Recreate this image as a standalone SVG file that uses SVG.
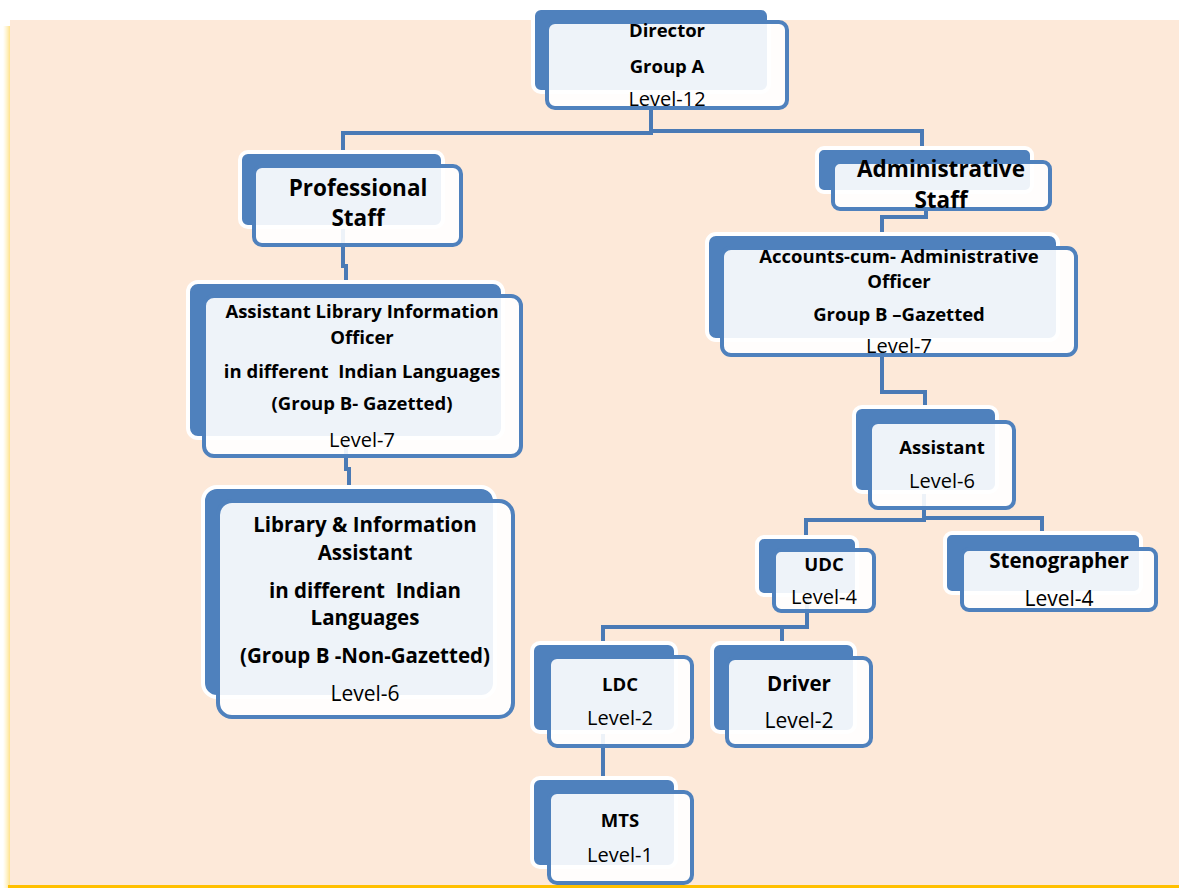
<svg xmlns="http://www.w3.org/2000/svg" width="1179" height="888" viewBox="0 0 1179 888">
  <defs>
    <linearGradient id="edgeGlow" x1="0" y1="0" x2="1" y2="0">
      <stop offset="0" stop-color="#FFE699" stop-opacity="0"/>
      <stop offset="1" stop-color="#FFD966" stop-opacity="0.9"/>
    </linearGradient>
  </defs>
  <style>
    .back { fill: #4F81BD; stroke: #FFFFFF; stroke-width: 4; }
    .front { fill: #FFFFFF; fill-opacity: 0.9; stroke: #4F81BD; stroke-width: 4; }
    .links path { fill: none; stroke: #4A7AB5; stroke-width: 4; }
    text { font-family: "Open Sans", "Liberation Sans", sans-serif; fill: #000000; text-anchor: middle; }
    .b { font-weight: bold; }
    .r { font-weight: normal; }
    .s18 { font-size: 18.5px; }
    .s19 { font-size: 20px; }
    .s20 { font-size: 20.5px; }
    .s21 { font-size: 21px; }
    .s22 { font-size: 22.5px; }
  </style>

  <!-- page background -->
  <rect x="0" y="0" width="1179" height="888" fill="#FFFFFF"/>
  <rect x="3" y="26" width="8" height="862" fill="url(#edgeGlow)"/>
  <rect x="10" y="20" width="1169" height="866" fill="#FDE9D9"/>
  <rect x="8" y="885" width="1171" height="3" fill="#FFC000"/>

  <!-- connectors -->
  <g class="links" id="connectors">
    <path d="M651 92 V133 H343 V152"/>
    <path d="M651 131 H922 V148"/>
    <path d="M343 227 V266 H346 V282"/>
    <path d="M346 438 V469 H349 V487"/>
    <path d="M926 192 V217 H882 V234"/>
    <path d="M882 340 V392 H925 V407"/>
    <path d="M924 492 V520 H806 V537"/>
    <path d="M924 518 H1042 V533"/>
    <path d="M807 595 V627 H603 V643"/>
    <path d="M807 627 H782 V643"/>
    <path d="M603 732 V778"/>
  </g>

  <g id="director">
    <rect class="back" x="533" y="8" width="236" height="84" rx="8"/>
    <rect class="front" x="547" y="22" width="240" height="86" rx="8"/>
    <text class="b s18" x="667" y="37">Director</text>
    <text class="b s18" x="667" y="73">Group A</text>
    <text class="r s19" x="667" y="106">Level-12</text>
  </g>

  <g id="professional-staff">
    <rect class="back" x="240" y="152" width="203" height="75" rx="8"/>
    <rect class="front" x="254" y="166" width="207" height="79" rx="8"/>
    <text class="b s22" x="358" y="196">Professional</text>
    <text class="b s22" x="358" y="226">Staff</text>
  </g>

  <g id="administrative-staff">
    <rect class="back" x="817" y="148" width="215" height="44" rx="7"/>
    <rect class="front" x="833" y="162" width="217" height="47" rx="7"/>
    <text class="b s22" x="941" y="177">Administrative</text>
    <text class="b s22" x="941" y="208">Staff</text>
  </g>

  <g id="accounts-officer">
    <rect class="back" x="707" y="234" width="351" height="106" rx="9"/>
    <rect class="front" x="722" y="248" width="354" height="107" rx="9"/>
    <text class="b s18" x="899" y="263">Accounts-cum- Administrative</text>
    <text class="b s18" x="899" y="288">Officer</text>
    <text class="b s18" x="899" y="321">Group B –Gazetted</text>
    <text class="r s19" x="899" y="353">Level-7</text>
  </g>

  <g id="assistant-library-information-officer">
    <rect class="back" x="188" y="282" width="315" height="156" rx="10"/>
    <rect class="front" x="204" y="296" width="317" height="160" rx="10"/>
    <text class="b s18" x="362" y="318">Assistant Library Information</text>
    <text class="b s18" x="362" y="344">Officer</text>
    <text class="b s18" x="362" y="378" xml:space="preserve">in different  Indian Languages</text>
    <text class="b s18" x="362" y="410">(Group B- Gazetted)</text>
    <text class="r s19" x="362" y="447">Level-7</text>
  </g>

  <g id="library-information-assistant">
    <rect class="back" x="203" y="487" width="292" height="210" rx="14"/>
    <rect class="front" x="218" y="501" width="295" height="216" rx="14"/>
    <text class="b s20" x="365" y="532">Library &amp; Information</text>
    <text class="b s20" x="365" y="560">Assistant</text>
    <text class="b s20" x="365" y="598" xml:space="preserve">in different  Indian</text>
    <text class="b s20" x="365" y="625">Languages</text>
    <text class="b s20" x="365" y="663">(Group B -Non-Gazetted)</text>
    <text class="r s21" x="365" y="701">Level-6</text>
  </g>

  <g id="assistant">
    <rect class="back" x="854" y="407" width="143" height="85" rx="8"/>
    <rect class="front" x="870" y="422" width="144" height="86" rx="8"/>
    <text class="b s18" x="942" y="454">Assistant</text>
    <text class="r s19" x="942" y="488">Level-6</text>
  </g>

  <g id="udc">
    <rect class="back" x="757" y="537" width="100" height="58" rx="7"/>
    <rect class="front" x="774" y="550" width="100" height="61" rx="7"/>
    <text class="b s18" x="824" y="571">UDC</text>
    <text class="r s19" x="824" y="604">Level-4</text>
  </g>

  <g id="stenographer">
    <rect class="back" x="945" y="533" width="196" height="60" rx="7"/>
    <rect class="front" x="962" y="549" width="194" height="61" rx="7"/>
    <text class="b s20" x="1059" y="568">Stenographer</text>
    <text class="r s21" x="1059" y="606">Level-4</text>
  </g>

  <g id="ldc">
    <rect class="back" x="532" y="643" width="144" height="89" rx="8"/>
    <rect class="front" x="549" y="657" width="143" height="89" rx="8"/>
    <text class="b s18" x="620" y="691">LDC</text>
    <text class="r s19" x="620" y="725">Level-2</text>
  </g>

  <g id="driver">
    <rect class="back" x="712" y="643" width="143" height="89" rx="8"/>
    <rect class="front" x="727" y="658" width="144" height="88" rx="8"/>
    <text class="b s20" x="799" y="691">Driver</text>
    <text class="r s21" x="799" y="728">Level-2</text>
  </g>

  <g id="mts">
    <rect class="back" x="532" y="778" width="144" height="89" rx="8"/>
    <rect class="front" x="549" y="792" width="143" height="91" rx="8"/>
    <text class="b s18" x="620" y="827">MTS</text>
    <text class="r s19" x="620" y="862">Level-1</text>
  </g>
</svg>
